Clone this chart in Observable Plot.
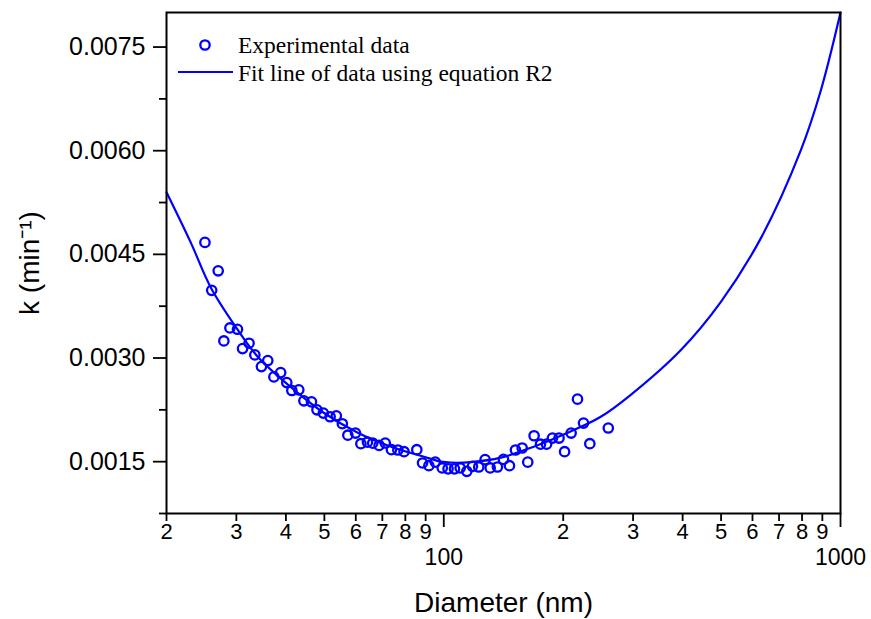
<!DOCTYPE html>
<html>
<head>
<meta charset="utf-8">
<script src="https://cdn.jsdelivr.net/npm/d3@7"></script>
<script src="https://cdn.jsdelivr.net/npm/@observablehq/plot@0.6"></script>
<style>
  html, body { margin: 0; padding: 0; background: #fff; }
  #chart { width: 871px; height: 619px; }
</style>
</head>
<body>
<div id="chart"></div>
<script>
// Experimental data (diameter in nm, rate constant k in 1/min)
const diameter = [25.0, 26.0, 27.0, 27.9, 28.9, 30.2, 31.1, 32.3, 33.4, 34.7,
  36.0, 37.3, 38.8, 40.2, 41.4, 43.1, 44.4, 46.4, 47.9, 49.7,
  51.7, 53.6, 55.5, 57.3, 59.9, 61.8, 64.2, 66.2, 68.7, 71.2,
  73.8, 76.6, 79.4, 85.5, 88.4, 91.7, 95.2, 99.1, 102.5, 106.4,
  110.0, 114.3, 118.1, 122.5, 127.1, 130.9, 136.5, 141.4, 146.4, 151.6,
  157.6, 162.8, 168.9, 175.3, 181.6, 187.9, 195.2, 201.6, 209.4, 217.3,
  225.0, 233.4, 259.8];
const kValue = [0.004673, 0.003979, 0.004262, 0.003247, 0.003435, 0.003416, 0.003136, 0.003214, 0.003045, 0.002876,
  0.002963, 0.002727, 0.002789, 0.002645, 0.002530, 0.002540, 0.002381, 0.002366, 0.002251, 0.002203,
  0.002150, 0.002164, 0.002049, 0.001883, 0.001914, 0.001760, 0.001782, 0.001767, 0.001735, 0.001770,
  0.001673, 0.001669, 0.001644, 0.001673, 0.001481, 0.001442, 0.001493, 0.001409, 0.001396, 0.001396,
  0.001409, 0.001360, 0.001432, 0.001423, 0.001529, 0.001409, 0.001423, 0.001533, 0.001442, 0.001669,
  0.001698, 0.001493, 0.001875, 0.001753, 0.001753, 0.001842, 0.001842, 0.001644, 0.001914, 0.002405,
  0.002059, 0.001760, 0.001987];

// Fit line
const fitDiameter = [20, 23, 25.9, 29.9, 34, 41.1, 49.8, 60.7, 73.6, 89.1,
  98.3, 104.1, 117, 139.2, 168.6, 205.4, 248.7, 296, 396, 499, 630, 794, 892, 1000];
const fitK = [0.005399, 0.004677, 0.004013, 0.003449, 0.003016, 0.002583, 0.002208, 0.001919, 0.001717, 0.001572,
  0.001500, 0.001486, 0.001493, 0.001558, 0.001717, 0.001919, 0.002150, 0.002468, 0.003117, 0.003810, 0.004735, 0.006005, 0.006872, 0.008000];

// Axes
const xMinorTicks = [20, 30, 40, 50, 60, 70, 80, 90, 200, 300, 400, 500, 600, 700, 800, 900];
const xMinorLabels = ["2", "3", "4", "5", "6", "7", "8", "9", "2", "3", "4", "5", "6", "7", "8", "9"];
const xMajorTicks = [100, 1000];
const xMajorLabels = ["100", "1000"];
const yMajorTicks = [0.0015, 0.0030, 0.0045, 0.0060, 0.0075];
const yMajorLabels = ["0.0015", "0.0030", "0.0045", "0.0060", "0.0075"];
const yMinorTicks = [0.00075, 0.00225, 0.00375, 0.00525, 0.00675];
const xTitle = "Diameter (nm)";
const yTitle = "k (min\u207B\u00B9)";
const legendLabels = ["Experimental data", "Fit line of data using equation R2"];

const blue = "#0000ff";
const points = diameter.map((d, i) => ({d, k: kValue[i]}));
const fit = fitDiameter.map((d, i) => ({d, k: fitK[i]}));

const sans = "'Liberation Sans', Arial, sans-serif";

const plot = Plot.plot({
  width: 871,
  height: 619,
  marginLeft: 166,
  marginRight: 31,
  marginTop: 12,
  marginBottom: 106,
  style: {fontFamily: sans, background: "#fff", overflow: "visible", color: "#000"},
  x: {type: "log", domain: [20, 1000], axis: null},
  y: {domain: [0.00075, 0.008], axis: null},
  marks: [
    Plot.line(fit, {x: "d", y: "k", stroke: blue, strokeWidth: 2.2, curve: "catmull-rom"}),
    Plot.dot(points, {x: "d", y: "k", r: 4.7, stroke: blue, strokeWidth: 2.3, fill: "none"}),
    // x ticks (labels drawn separately)
    Plot.axisX({ticks: xMinorTicks, tickSize: 8, strokeWidth: 1.8, tickFormat: () => "", label: null}),
    Plot.axisX({ticks: xMajorTicks, tickSize: 14, strokeWidth: 1.8, tickFormat: () => "", label: null}),
    Plot.text(xMinorTicks, {x: (d) => d, text: (d, i) => xMinorLabels[i], frameAnchor: "bottom",
      lineAnchor: "top", dy: 10, fontSize: 22, fill: "#000"}),
    Plot.text(xMajorTicks, {x: (d) => d, text: (d, i) => xMajorLabels[i], frameAnchor: "bottom",
      lineAnchor: "top", dy: 35, fontSize: 23, fill: "#000"}),
    // y ticks
    Plot.axisY({ticks: yMajorTicks, tickSize: 13, tickPadding: 8, strokeWidth: 1.8,
      tickFormat: (d) => yMajorLabels[yMajorTicks.indexOf(d)], fontSize: 25, label: null}),
    Plot.axisY({ticks: yMinorTicks, tickSize: 7, strokeWidth: 1.8, tickFormat: () => "", label: null}),
    Plot.frame({stroke: "#000", strokeWidth: 2}),
    Plot.text([xTitle], {text: (d) => d, frameAnchor: "bottom", lineAnchor: "middle", dy: 90, fontSize: 28, fill: "#000"}),
    Plot.text([yTitle], {text: (d) => d, frameAnchor: "left", textAnchor: "middle", lineAnchor: "middle",
      dx: -136, rotate: -90, fontSize: 28, fill: "#000"})
  ]
});

// Legend inside the frame (top-left)
const svg = d3.select(plot);
const lg = svg.append("g")
  .attr("font-family", "'Liberation Serif', 'Times New Roman', serif")
  .attr("font-size", 23.5)
  .attr("text-anchor", "start");
lg.append("circle").attr("cx", 205).attr("cy", 45).attr("r", 4.7)
  .attr("fill", "none").attr("stroke", blue).attr("stroke-width", 2.3);
lg.append("text").attr("x", 238).attr("y", 53).attr("fill", "#000").text(legendLabels[0]);
lg.append("line").attr("x1", 178).attr("x2", 233).attr("y1", 72).attr("y2", 72)
  .attr("stroke", blue).attr("stroke-width", 2.2);
lg.append("text").attr("x", 238).attr("y", 81).attr("fill", "#000").text(legendLabels[1]);

document.getElementById("chart").appendChild(plot);
</script>
</body>
</html>
